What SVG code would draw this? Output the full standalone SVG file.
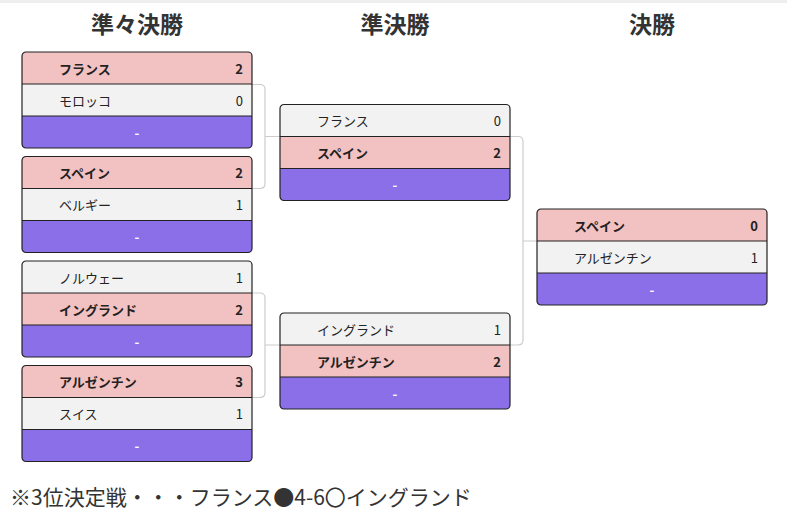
<svg xmlns="http://www.w3.org/2000/svg" xmlns:xlink="http://www.w3.org/1999/xlink" width="787" height="520" viewBox="0 0 787 520">
<style>
text{font-family:"Noto Sans CJK JP","Noto Sans",sans-serif;fill:#222}
.hd{font-size:23px;font-weight:bold;fill:#333;text-anchor:middle}
.nm{font-size:13px;dominant-baseline:central}
.sc{font-size:13px;dominant-baseline:central;text-anchor:end}
.b{font-weight:bold}
.dash{font-size:13px;font-weight:bold;fill:#fff;text-anchor:middle;dominant-baseline:central}
.win{fill:#f2c1c1}
.lose{fill:#f2f2f2}
.tbd{fill:#8b6fe8}
.sep{stroke:#222;stroke-width:1.2}
.frame{fill:none;stroke:#222;stroke-width:1.2}
.conn{fill:none;stroke:#ccc;stroke-width:1.2}
.note{font-size:21px;fill:#333}
</style>
<defs>
<path id="topRow" d="M0,32 V4 Q0,0 4,0 H226 Q230,0 230,4 V32 Z"/>
<rect id="midRow" x="0" y="32" width="230" height="32"/>
<path id="botRow" d="M0,64 H230 V92 Q230,96 226,96 H4 Q0,96 0,92 Z"/>
<path id="seps" d="M0,32 H230 M0,64 H230"/>
<rect id="frame" x="0" y="0" width="230" height="96" rx="4" ry="4"/>
</defs>
<rect x="0" y="0" width="787" height="3" fill="#eeeeee"/>
<text class="hd" x="137" y="33">準々決勝</text>
<text class="hd" x="395" y="33">準決勝</text>
<text class="hd" x="652" y="33">決勝</text>

<g id="connectors">
<path class="conn" d="M252,84.5 H260 Q265,84.5 265,89.5 V183.5 Q265,188.5 260,188.5 H252 M265,136.5 H280"/>
<path class="conn" d="M252,293 H260 Q265,293 265,298 V392.5 Q265,397.5 260,397.5 H252 M265,345 H280"/>
<path class="conn" d="M510,136.5 H518 Q523,136.5 523,141.5 V340 Q523,345 518,345 H510 M523,241 H537"/>
</g>

<g id="qf1" transform="translate(22,52)">
<use xlink:href="#topRow" class="win"/><use xlink:href="#midRow" class="lose"/><use xlink:href="#botRow" class="tbd"/>
<use xlink:href="#seps" class="sep"/><use xlink:href="#frame" class="frame"/>
<text class="nm b" x="37" y="16">フランス</text><text class="sc b" x="221" y="16">2</text>
<text class="nm" x="37" y="48">モロッコ</text><text class="sc" x="221" y="48">0</text>
<text class="dash" x="115" y="80">-</text>
</g>
<g id="qf2" transform="translate(22,156.5)">
<use xlink:href="#topRow" class="win"/><use xlink:href="#midRow" class="lose"/><use xlink:href="#botRow" class="tbd"/>
<use xlink:href="#seps" class="sep"/><use xlink:href="#frame" class="frame"/>
<text class="nm b" x="37" y="16">スペイン</text><text class="sc b" x="221" y="16">2</text>
<text class="nm" x="37" y="48">ベルギー</text><text class="sc" x="221" y="48">1</text>
<text class="dash" x="115" y="80">-</text>
</g>
<g id="qf3" transform="translate(22,261)">
<use xlink:href="#topRow" class="lose"/><use xlink:href="#midRow" class="win"/><use xlink:href="#botRow" class="tbd"/>
<use xlink:href="#seps" class="sep"/><use xlink:href="#frame" class="frame"/>
<text class="nm" x="37" y="16">ノルウェー</text><text class="sc" x="221" y="16">1</text>
<text class="nm b" x="37" y="48">イングランド</text><text class="sc b" x="221" y="48">2</text>
<text class="dash" x="115" y="80">-</text>
</g>
<g id="qf4" transform="translate(22,365.5)">
<use xlink:href="#topRow" class="win"/><use xlink:href="#midRow" class="lose"/><use xlink:href="#botRow" class="tbd"/>
<use xlink:href="#seps" class="sep"/><use xlink:href="#frame" class="frame"/>
<text class="nm b" x="37" y="16">アルゼンチン</text><text class="sc b" x="221" y="16">3</text>
<text class="nm" x="37" y="48">スイス</text><text class="sc" x="221" y="48">1</text>
<text class="dash" x="115" y="80">-</text>
</g>
<g id="sf1" transform="translate(280,104.5)">
<use xlink:href="#topRow" class="lose"/><use xlink:href="#midRow" class="win"/><use xlink:href="#botRow" class="tbd"/>
<use xlink:href="#seps" class="sep"/><use xlink:href="#frame" class="frame"/>
<text class="nm" x="37" y="16">フランス</text><text class="sc" x="221" y="16">0</text>
<text class="nm b" x="37" y="48">スペイン</text><text class="sc b" x="221" y="48">2</text>
<text class="dash" x="115" y="80">-</text>
</g>
<g id="sf2" transform="translate(280,313)">
<use xlink:href="#topRow" class="lose"/><use xlink:href="#midRow" class="win"/><use xlink:href="#botRow" class="tbd"/>
<use xlink:href="#seps" class="sep"/><use xlink:href="#frame" class="frame"/>
<text class="nm" x="37" y="16">イングランド</text><text class="sc" x="221" y="16">1</text>
<text class="nm b" x="37" y="48">アルゼンチン</text><text class="sc b" x="221" y="48">2</text>
<text class="dash" x="115" y="80">-</text>
</g>
<g id="final" transform="translate(537,209)">
<use xlink:href="#topRow" class="win"/><use xlink:href="#midRow" class="lose"/><use xlink:href="#botRow" class="tbd"/>
<use xlink:href="#seps" class="sep"/><use xlink:href="#frame" class="frame"/>
<text class="nm b" x="37" y="16">スペイン</text><text class="sc b" x="221" y="16">0</text>
<text class="nm" x="37" y="48">アルゼンチン</text><text class="sc" x="221" y="48">1</text>
<text class="dash" x="115" y="80">-</text>
</g>
<text class="note" x="10" y="505">※3位決定戦・・・フランス●4-6〇イングランド</text>
</svg>
